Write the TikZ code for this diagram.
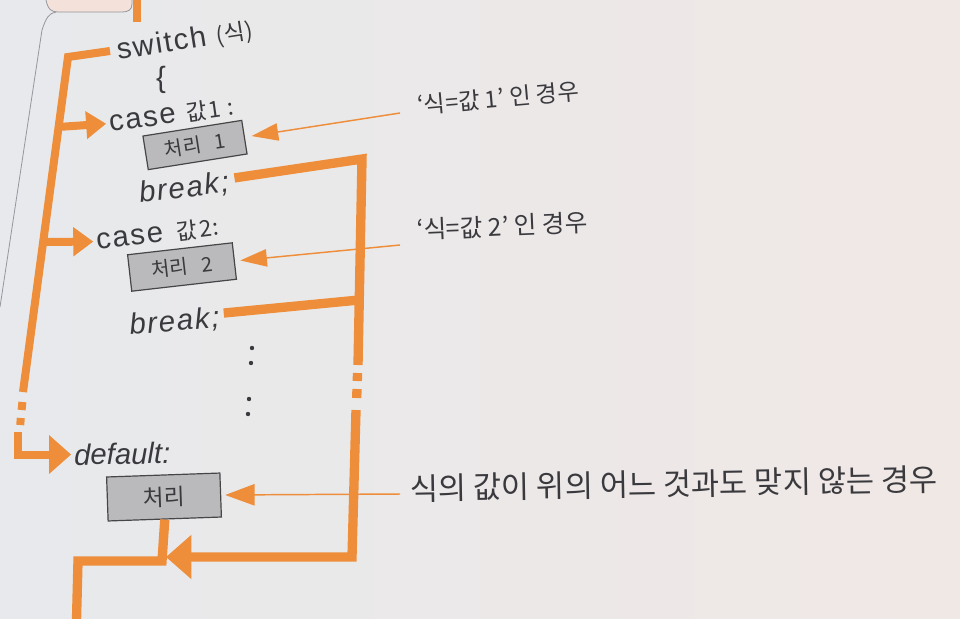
\documentclass[tikz,border=0pt]{standalone}
\usepackage{fontspec}
\setmainfont{Liberation Sans}
\newfontfamily\kr{Noto Sans CJK KR}
\newfontfamily\codefont[LetterSpace=6]{Liberation Sans}
\usetikzlibrary{arrows.meta}
\definecolor{org}{RGB}{238,141,58}
\definecolor{ink}{RGB}{58,58,62}
\definecolor{boxfill}{RGB}{186,186,188}
\definecolor{boxline}{RGB}{70,70,72}
\definecolor{bgl}{RGB}{231,233,236}
\definecolor{bgr}{RGB}{240,232,229}
\definecolor{pinkbox}{RGB}{243,225,218}
\definecolor{panel}{RGB}{150,150,158}
\begin{document}
\begin{tikzpicture}[x=0.75pt,y=-0.75pt,
  code/.style={font=\codefont\fontsize{22}{24}\selectfont, text=ink, inner sep=0pt},
  codeit/.style={code, font=\codefont\fontsize{22}{24}\selectfont\itshape},
  procbox/.style={draw=boxline, line width=0.9pt, fill=boxfill, text=ink,
     font=\kr\fontsize{15}{16}\selectfont, inner sep=0pt},
  lab/.style={text=ink, font=\kr\fontsize{17.5}{18}\selectfont, inner sep=0pt},
  thickline/.style={draw=org, line width=6pt, line join=miter},
  thickline2/.style={draw=org, line width=7pt, line join=miter},
  thinarrow/.style={draw=org, line width=1.1pt, -{Triangle[length=20pt,width=13pt]}},
  dotmark/.style={fill=ink}]
\useasboundingbox (0,0) rectangle (960,618);
\clip (0,0) rectangle (960,618);
\shade[left color=bgl, right color=bgr] (0,0) rectangle (960,618);

% top tab and panel border
\draw[panel, line width=0.6pt, fill=pinkbox] (132,-20) -- (132,4) .. controls (132,10) and (128,12) .. (122,12)
   -- (58,12) .. controls (52,12) and (48,10) .. (46,0) -- (46,-20) -- cycle;
\draw[panel, line width=0.6pt] (56,12) .. controls (49,13) and (46,18) .. (42,30) -- (0,307);
\draw[thickline] (137,0) -- (137,22);

% code text
\node[code, anchor=base west, rotate=9] (sw) at (118,60) {switch\hspace{8pt}{\kr\fontsize{17}{18}\selectfont(식)}};
\node[code] (lb) at (161,80) {\{};
\node[code, anchor=base west, rotate=8] (c1) at (110,132) {case\hspace{8pt}{\kr\fontsize{17}{18}\selectfont 값\hspace{1pt}1\hspace{5pt}:}};
\node[procbox, minimum width=75pt, minimum height=25.5pt, rotate=9] (p1) at (195,145) {처리\hspace{10pt}1};
\node[codeit, anchor=base west, rotate=7] (b1) at (140,203) {break;};
\node[code, anchor=base west, rotate=7] (c2) at (97,250) {case\hspace{10pt}{\kr\fontsize{17}{18}\selectfont 값\hspace{2pt}2:}};
\node[procbox, minimum width=79pt, minimum height=27.5pt, rotate=6.5] (p2) at (182,267) {처리\hspace{10pt}2};
\node[codeit, anchor=base west, rotate=5] (b2) at (130,335) {break;};
\fill[dotmark] (252,348) circle (2.2) (251,363) circle (2.2) (249,399) circle (2.2) (248,414) circle (2.2);
\node[text=ink, inner sep=0pt, font=\fontsize{22}{24}\selectfont\itshape, anchor=base west, rotate=1] (df) at (74,465) {default:};
\node[procbox, minimum width=85pt, minimum height=33pt, rotate=2, font=\kr\fontsize{17}{18}\selectfont] (p3) at (164,497) {처리};

% labels
\node[lab, anchor=base west, rotate=5] (l1) at (418,114) {‘식=값 1’ 인 경우};
\node[lab, anchor=base west, rotate=2.4, font=\kr\fontsize{18.5}{19}\selectfont] (l2) at (417,239) {‘식=값 2’ 인 경우};
\node[lab, anchor=base west, rotate=1, font=\kr\fontsize{23}{24}\selectfont] (l3) at (410,500) {식의 값이 위의 어느 것과도 맞지 않는 경우};

\coordinate (l1s) at (400,113);
\coordinate (l2s) at (400,245);
\coordinate (l3s) at (400,494);
\draw[thinarrow, shorten >=5pt] (l1s) -- (p1.east);
\draw[thinarrow, shorten >=4pt] (l2s) -- (p2.east);
\draw[thinarrow, -{Triangle[length=22pt,width=16pt]}, shorten >=3pt] (l3s) -- (p3.east);

% left trunk
\coordinate (t0) at (110,51);
\coordinate (t1) at (68,57);
\coordinate (t2) at (23,392);
\coordinate (j1) at (58,127);
\coordinate (j2) at (43,242);
\coordinate (t3) at (18,432);
\draw[thickline] (t0) -- (t1) -- (t2);
\draw[org, line width=6pt] (22.4,402) -- (21.6,410) (20.8,418) -- (20.2,425);
\draw[thickline, -{Triangle[length=15pt,width=20pt]}, shorten >=2pt] (j1) -- (c1.west);
\draw[thickline, -{Triangle[length=15pt,width=21pt]}, shorten >=2pt] (j2) -- (c2.west);
\draw[thickline, -{Triangle[length=16.5pt,width=28pt]}, shorten >=2pt] (t3) |- (df.west);

% right return path
\coordinate (r1) at (362,159);
\coordinate (rb) at (359,300);
\coordinate (r2) at (358,365);
\coordinate (r3) at (356,410);
\coordinate (r4) at (352,557);
\draw[thickline2] ([xshift=4pt,yshift=4pt]b1.east) -- (r1) -- (r2);
\draw[thickline2] ([xshift=3pt,yshift=4pt]b2.east) -- (rb);
\draw[org, line width=7pt] (357.5,373) -- (357.3,381) (357,389) -- (356.7,398);

% exit path
\coordinate (d1) at (162,561);
\coordinate (d2) at (78,561);
\coordinate (d3) at (76,640);
\draw[thickline2] (p3.south) -- (d1) -- (d2) -- (d3);
\draw[thickline2, -{Triangle[length=19pt,width=32pt]}, shorten >=3pt] (r3) -- (r4) -- (r4 -| d1);
\end{tikzpicture}
\end{document}
